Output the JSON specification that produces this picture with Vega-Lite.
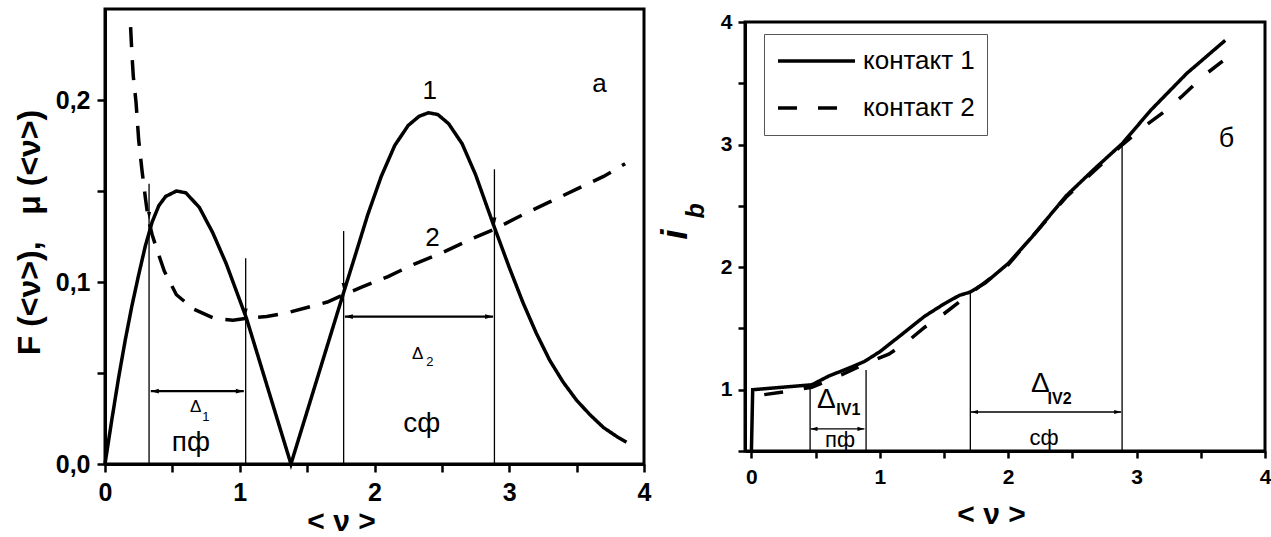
{
  "$schema": "https://vega.github.io/schema/vega-lite/v6.json",
  "background": "white",
  "padding": {"left": 11, "top": 7, "right": 5, "bottom": 5},
  "spacing": 101,
  "bounds": "flush",
  "center": true,
  "resolve": {"scale": {"strokeDash": "independent"}, "legend": {"strokeDash": "independent"}},
  "config": {
    "font": "Liberation Sans",
    "view": {"stroke": "black", "strokeWidth": 3},
    "axis": {
      "domainColor": "black", "domainWidth": 3,
      "tickColor": "black", "tickWidth": 2.5,
      "labelColor": "black", "labelFont": "Liberation Sans", "labelFontWeight": "bold",
      "titleColor": "black", "titleFont": "Liberation Sans", "titleFontWeight": "bold",
      "grid": false, "labelOverlap": false, "labelFlush": false
    },
    "text": {"font": "Liberation Sans", "color": "black", "align": "center", "baseline": "middle"}
  },
  "datasets": {
    "L_curves": [
      {"x": 0, "y": 0, "curve": "1"}, {"x": 0.05, "y": 0.024, "curve": "1"}, {"x": 0.1, "y": 0.047, "curve": "1"},
      {"x": 0.15, "y": 0.068, "curve": "1"}, {"x": 0.2, "y": 0.087, "curve": "1"}, {"x": 0.25, "y": 0.104, "curve": "1"},
      {"x": 0.3, "y": 0.12, "curve": "1"}, {"x": 0.35, "y": 0.133, "curve": "1"}, {"x": 0.4, "y": 0.142, "curve": "1"},
      {"x": 0.45, "y": 0.147, "curve": "1"}, {"x": 0.53, "y": 0.15, "curve": "1"}, {"x": 0.6, "y": 0.149, "curve": "1"},
      {"x": 0.7, "y": 0.141, "curve": "1"}, {"x": 0.8, "y": 0.127, "curve": "1"}, {"x": 0.9, "y": 0.11, "curve": "1"},
      {"x": 1.0, "y": 0.09, "curve": "1"}, {"x": 1.05, "y": 0.08, "curve": "1"}, {"x": 1.38, "y": 0.0, "curve": "1"},
      {"x": 1.77, "y": 0.094, "curve": "1"}, {"x": 1.85, "y": 0.113, "curve": "1"}, {"x": 1.95, "y": 0.137, "curve": "1"},
      {"x": 2.05, "y": 0.158, "curve": "1"}, {"x": 2.15, "y": 0.175, "curve": "1"}, {"x": 2.25, "y": 0.186, "curve": "1"},
      {"x": 2.33, "y": 0.191, "curve": "1"}, {"x": 2.4, "y": 0.193, "curve": "1"}, {"x": 2.47, "y": 0.192, "curve": "1"},
      {"x": 2.55, "y": 0.187, "curve": "1"}, {"x": 2.65, "y": 0.176, "curve": "1"}, {"x": 2.75, "y": 0.159, "curve": "1"},
      {"x": 2.88, "y": 0.132, "curve": "1"}, {"x": 3.0, "y": 0.108, "curve": "1"}, {"x": 3.1, "y": 0.089, "curve": "1"},
      {"x": 3.2, "y": 0.072, "curve": "1"}, {"x": 3.3, "y": 0.057, "curve": "1"}, {"x": 3.4, "y": 0.045, "curve": "1"},
      {"x": 3.5, "y": 0.035, "curve": "1"}, {"x": 3.6, "y": 0.027, "curve": "1"}, {"x": 3.7, "y": 0.02, "curve": "1"},
      {"x": 3.8, "y": 0.015, "curve": "1"}, {"x": 3.87, "y": 0.012, "curve": "1"},
      {"x": 0.19, "y": 0.24, "curve": "2"}, {"x": 0.2, "y": 0.225, "curve": "2"}, {"x": 0.21, "y": 0.213, "curve": "2"},
      {"x": 0.23, "y": 0.199, "curve": "2"}, {"x": 0.25, "y": 0.178, "curve": "2"}, {"x": 0.275, "y": 0.161, "curve": "2"},
      {"x": 0.3, "y": 0.146, "curve": "2"}, {"x": 0.32, "y": 0.135, "curve": "2"}, {"x": 0.35, "y": 0.126, "curve": "2"},
      {"x": 0.38, "y": 0.119, "curve": "2"}, {"x": 0.44, "y": 0.106, "curve": "2"}, {"x": 0.53, "y": 0.093, "curve": "2"},
      {"x": 0.66, "y": 0.085, "curve": "2"}, {"x": 0.81, "y": 0.08, "curve": "2"}, {"x": 0.95, "y": 0.079, "curve": "2"},
      {"x": 1.05, "y": 0.08, "curve": "2"}, {"x": 1.2, "y": 0.081, "curve": "2"}, {"x": 1.35, "y": 0.083, "curve": "2"},
      {"x": 1.5, "y": 0.086, "curve": "2"}, {"x": 1.65, "y": 0.089, "curve": "2"}, {"x": 1.77, "y": 0.093, "curve": "2"},
      {"x": 1.9, "y": 0.097, "curve": "2"}, {"x": 2.1, "y": 0.103, "curve": "2"}, {"x": 2.3, "y": 0.11, "curve": "2"},
      {"x": 2.5, "y": 0.116, "curve": "2"}, {"x": 2.7, "y": 0.123, "curve": "2"}, {"x": 2.89, "y": 0.129, "curve": "2"},
      {"x": 3.1, "y": 0.137, "curve": "2"}, {"x": 3.3, "y": 0.144, "curve": "2"}, {"x": 3.5, "y": 0.151, "curve": "2"},
      {"x": 3.7, "y": 0.158, "curve": "2"}, {"x": 3.86, "y": 0.165, "curve": "2"}
    ],
    "L_vlines": [
      {"x": 0.327, "y": 0, "top": 0.154}, {"x": 1.044, "y": 0, "top": 0.113},
      {"x": 1.771, "y": 0, "top": 0.128}, {"x": 2.89, "y": 0, "top": 0.162}
    ],
    "L_harrows": [
      {"x": 0.34, "x2": 1.03, "y": 0.04}, {"x": 1.78, "x2": 2.88, "y": 0.081}
    ],
    "L_heads": [
      {"x": 0.327, "y": 0.134, "dir": "down"}, {"x": 1.044, "y": 0.081, "dir": "down"},
      {"x": 1.771, "y": 0.095, "dir": "down"}, {"x": 2.89, "y": 0.131, "dir": "down"},
      {"x": 0.34, "y": 0.04, "dir": "left"}, {"x": 1.03, "y": 0.04, "dir": "right"},
      {"x": 1.78, "y": 0.081, "dir": "left"}, {"x": 2.88, "y": 0.081, "dir": "right"}
    ],
    "L_text_phase": [
      {"x": 0.637, "y": 0.0117, "text": "пф"}, {"x": 2.35, "y": 0.022, "text": "сф"}
    ],
    "L_text_delta": [
      {"x": 0.672, "y": 0.0314, "text": "Δ"}, {"x": 2.32, "y": 0.0606, "text": "Δ"}
    ],
    "L_text_sub": [
      {"x": 0.749, "y": 0.0258, "text": "1"}, {"x": 2.41, "y": 0.0559, "text": "2"}
    ],
    "L_text_label": [
      {"x": 2.41, "y": 0.205, "text": "1"}, {"x": 2.43, "y": 0.124, "text": "2"}, {"x": 3.67, "y": 0.209, "text": "а"}
    ],
    "R_curves": [
      {"x": 0.1, "y": 0.96, "contact": "контакт 2"}, {"x": 0.3, "y": 0.99, "contact": "контакт 2"},
      {"x": 0.47, "y": 1.02, "contact": "контакт 2"}, {"x": 0.7, "y": 1.12, "contact": "контакт 2"},
      {"x": 0.9, "y": 1.22, "contact": "контакт 2"}, {"x": 1.07, "y": 1.29, "contact": "контакт 2"},
      {"x": 1.2, "y": 1.38, "contact": "контакт 2"}, {"x": 1.35, "y": 1.51, "contact": "контакт 2"},
      {"x": 1.5, "y": 1.62, "contact": "контакт 2"}, {"x": 1.7, "y": 1.78, "contact": "контакт 2"},
      {"x": 2.0, "y": 2.02, "contact": "контакт 2"}, {"x": 2.45, "y": 2.57, "contact": "контакт 2"},
      {"x": 2.89, "y": 3.0, "contact": "контакт 2"}, {"x": 3.05, "y": 3.14, "contact": "контакт 2"},
      {"x": 3.23, "y": 3.28, "contact": "контакт 2"}, {"x": 3.36, "y": 3.4, "contact": "контакт 2"},
      {"x": 3.52, "y": 3.56, "contact": "контакт 2"}, {"x": 3.67, "y": 3.68, "contact": "контакт 2"},
      {"x": 0.0, "y": 0.5, "contact": "контакт 1"}, {"x": 0.01, "y": 1.0, "contact": "контакт 1"},
      {"x": 0.47, "y": 1.04, "contact": "контакт 1"}, {"x": 0.6, "y": 1.11, "contact": "контакт 1"},
      {"x": 0.79, "y": 1.19, "contact": "контакт 1"}, {"x": 0.88, "y": 1.23, "contact": "контакт 1"},
      {"x": 1.0, "y": 1.31, "contact": "контакт 1"}, {"x": 1.17, "y": 1.45, "contact": "контакт 1"},
      {"x": 1.35, "y": 1.6, "contact": "контакт 1"}, {"x": 1.5, "y": 1.7, "contact": "контакт 1"},
      {"x": 1.62, "y": 1.77, "contact": "контакт 1"}, {"x": 1.7, "y": 1.795, "contact": "контакт 1"},
      {"x": 1.82, "y": 1.87, "contact": "контакт 1"},
      {"x": 2.0, "y": 2.03, "contact": "контакт 1"}, {"x": 2.18, "y": 2.24, "contact": "контакт 1"},
      {"x": 2.45, "y": 2.58, "contact": "контакт 1"}, {"x": 2.67, "y": 2.8, "contact": "контакт 1"},
      {"x": 2.89, "y": 3.01, "contact": "контакт 1"}, {"x": 3.11, "y": 3.28, "contact": "контакт 1"},
      {"x": 3.39, "y": 3.58, "contact": "контакт 1"}, {"x": 3.69, "y": 3.85, "contact": "контакт 1"}
    ],
    "R_vlines": [
      {"x": 0.457, "y": 0.5, "top": 1.01}, {"x": 0.893, "y": 0.5, "top": 1.16},
      {"x": 1.705, "y": 0.5, "top": 1.8}, {"x": 2.887, "y": 0.5, "top": 3.0}
    ],
    "R_harrows": [
      {"x": 0.46, "x2": 0.88, "y": 0.68}, {"x": 1.71, "x2": 2.88, "y": 0.818}
    ],
    "R_heads": [
      {"x": 0.46, "y": 0.68, "dir": "left"}, {"x": 0.88, "y": 0.68, "dir": "right"},
      {"x": 1.71, "y": 0.818, "dir": "left"}, {"x": 2.88, "y": 0.818, "dir": "right"}
    ],
    "R_text_delta": [
      {"x": 0.584, "y": 0.916, "text": "Δ"}, {"x": 2.25, "y": 1.05, "text": "Δ"}
    ],
    "R_text_sub": [
      {"x": 0.755, "y": 0.834, "text": "IV1"}, {"x": 2.4, "y": 0.925, "text": "IV2"}
    ],
    "R_text_phase": [
      {"x": 0.69, "y": 0.59, "text": "пф"}, {"x": 2.28, "y": 0.61, "text": "сф"}
    ],
    "R_text_panel": [
      {"x": 3.7, "y": 3.045, "text": "б"}
    ],
    "R_text_axis": [
      {"x": -0.43, "y": 2.46, "text": "b"}
    ]
  },
  "hconcat": [
    {
      "width": 539,
      "height": 455,
      "encoding": {
        "x": {"field": "x", "type": "quantitative",
          "scale": {"domain": [0, 4], "nice": false, "zero": false},
          "axis": {"title": "< ν >", "values": [0, 0.5, 1, 1.5, 2, 2.5, 3, 3.5, 4],
            "labelExpr": "datum.value % 1 === 0 ? format(datum.value, 'd') : ''",
            "labelFontSize": 25, "tickSize": 8, "labelPadding": 8,
            "titleFontSize": 30, "titleX": 236, "titleY": 57, "titleBaseline": "middle", "titleAlign": "center"}},
        "y": {"field": "y", "type": "quantitative",
          "scale": {"domain": [0, 0.25], "nice": false, "zero": false},
          "axis": {"title": "F\u00a0(<ν>),\u00a0\u00a0\u00a0μ\u00a0(<ν>)", "values": [0, 0.05, 0.1, 0.15, 0.2],
            "labelExpr": "round(datum.value * 100) % 10 === 0 ? replace(format(datum.value, '.1f'), '.', ',') : ''",
            "labelFontSize": 25, "tickSize": 8, "labelPadding": 7,
            "titleFontSize": 32, "titleX": -76, "titleY": 223, "titleBaseline": "middle"}}
      },
      "layer": [
        {
          "data": {"name": "L_curves"},
          "mark": {"type": "line", "color": "black", "strokeWidth": 3.5},
          "encoding": {
            "detail": {"field": "curve"},
            "strokeDash": {"field": "curve", "type": "nominal",
              "scale": {"domain": ["1", "2"], "range": [[1, 0], [20, 13]]}, "legend": null}
          }
        },
        {
          "data": {"name": "L_vlines"},
          "mark": {"type": "rule", "color": "black", "strokeWidth": 1.3},
          "encoding": {"y2": {"field": "top"}}
        },
        {
          "data": {"name": "L_harrows"},
          "mark": {"type": "rule", "color": "black", "strokeWidth": 2.2},
          "encoding": {"x2": {"field": "x2"}}
        },
        {
          "data": {"name": "L_heads"},
          "mark": {"type": "point", "filled": true, "color": "black", "opacity": 1, "size": 64},
          "encoding": {
            "shape": {"field": "dir", "type": "nominal", "legend": null,
              "scale": {"domain": ["down", "left", "right"],
                "range": ["M-0.5,-2L0,0L0.5,-2Z", "M0,0L2,-0.6L2,0.6Z", "M0,0L-2,-0.6L-2,0.6Z"]}}
          }
        },
        {
          "data": {"name": "L_text_phase"},
          "mark": {"type": "text", "fontSize": 28},
          "encoding": {"text": {"field": "text"}}
        },
        {
          "data": {"name": "L_text_delta"},
          "mark": {"type": "text", "fontSize": 17},
          "encoding": {"text": {"field": "text"}}
        },
        {
          "data": {"name": "L_text_sub"},
          "mark": {"type": "text", "fontSize": 13},
          "encoding": {"text": {"field": "text"}}
        },
        {
          "data": {"name": "L_text_label"},
          "mark": {"type": "text", "fontSize": 26},
          "encoding": {"text": {"field": "text"}}
        }
      ]
    },
    {
      "width": 520,
      "height": 429,
      "encoding": {
        "x": {"field": "x", "type": "quantitative",
          "scale": {"domain": [-0.05, 4], "nice": false, "zero": false},
          "axis": {"title": "< ν >", "values": [0, 0.5, 1, 1.5, 2, 2.5, 3, 3.5, 4],
            "labelExpr": "datum.value % 1 === 0 ? format(datum.value, 'd') : ''",
            "labelFontSize": 21, "tickSize": 7, "labelPadding": 8,
            "titleFontSize": 30, "titleX": 246, "titleY": 63, "titleBaseline": "middle", "titleAlign": "center"}},
        "y": {"field": "y", "type": "quantitative",
          "scale": {"domain": [0.5, 4], "nice": false, "zero": false},
          "axis": {"title": "i", "values": [0.5, 1, 1.5, 2, 2.5, 3, 3.5, 4],
            "labelExpr": "datum.value % 1 === 0 ? format(datum.value, 'd') : ''",
            "labelFontSize": 21, "tickSize": 7, "labelPadding": 6,
            "titleFontSize": 36, "titleFontStyle": "italic", "titleX": -70, "titleY": 212, "titleBaseline": "middle"}}
      },
      "layer": [
        {
          "data": {"name": "R_curves"},
          "mark": {"type": "line", "color": "black", "strokeWidth": 3.5},
          "encoding": {
            "detail": {"field": "contact"},
            "strokeDash": {"field": "contact", "type": "nominal",
              "scale": {"domain": ["контакт 1", "контакт 2"], "range": [[1, 0], [19, 21]]},
              "legend": {"title": null, "orient": "none", "legendX": 19, "legendY": 12,
                "symbolType": "stroke", "symbolSize": 5929, "symbolStrokeWidth": 3.5,
                "symbolStrokeColor": "black", "labelFontSize": 26, "labelFont": "Liberation Sans",
                "labelColor": "black", "labelOffset": 6, "strokeColor": "#555",
                "clipHeight": 30, "padding": 12, "rowPadding": 17, "fillColor": "white"}}
          }
        },
        {
          "data": {"name": "R_vlines"},
          "mark": {"type": "rule", "color": "black", "strokeWidth": 1.3},
          "encoding": {"y2": {"field": "top"}}
        },
        {
          "data": {"name": "R_harrows"},
          "mark": {"type": "rule", "color": "black", "strokeWidth": 1.3},
          "encoding": {"x2": {"field": "x2"}}
        },
        {
          "data": {"name": "R_heads"},
          "mark": {"type": "point", "filled": true, "color": "black", "opacity": 1, "size": 49},
          "encoding": {
            "shape": {"field": "dir", "type": "nominal", "legend": null,
              "scale": {"domain": ["down", "left", "right"],
                "range": ["M-0.5,-2L0,0L0.5,-2Z", "M0,0L2,-0.6L2,0.6Z", "M0,0L-2,-0.6L-2,0.6Z"]}}
          }
        },
        {
          "data": {"name": "R_text_delta"},
          "mark": {"type": "text", "fontSize": 28},
          "encoding": {"text": {"field": "text"}}
        },
        {
          "data": {"name": "R_text_sub"},
          "mark": {"type": "text", "fontSize": 16, "fontWeight": "bold"},
          "encoding": {"text": {"field": "text"}}
        },
        {
          "data": {"name": "R_text_phase"},
          "mark": {"type": "text", "fontSize": 22},
          "encoding": {"text": {"field": "text"}}
        },
        {
          "data": {"name": "R_text_panel"},
          "mark": {"type": "text", "fontSize": 27},
          "encoding": {"text": {"field": "text"}}
        },
        {
          "data": {"name": "R_text_axis"},
          "mark": {"type": "text", "fontSize": 25, "fontWeight": "bold", "fontStyle": "italic", "angle": 270},
          "encoding": {"text": {"field": "text"}}
        }
      ]
    }
  ]
}
